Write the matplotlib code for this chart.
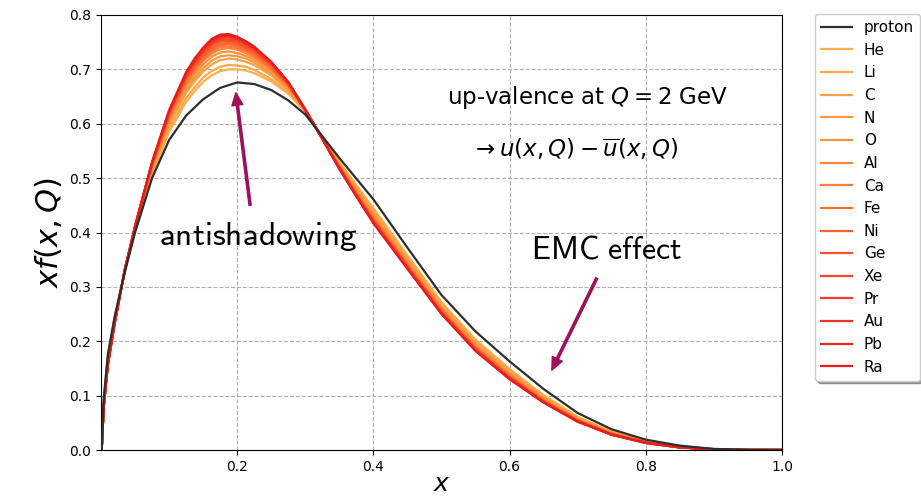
import numpy as np
import matplotlib
matplotlib.use('Agg')
import matplotlib.pyplot as plt

# values (x f(x,Q), up-valence, Q = 2 GeV)
x_p = [0.001, 0.004, 0.01, 0.02, 0.035, 0.05, 0.075, 0.1, 0.125, 0.15, 0.175, 0.2,
       0.225, 0.25, 0.275, 0.3, 0.325, 0.35, 0.375, 0.4, 0.45, 0.5, 0.55, 0.6,
       0.65, 0.7, 0.75, 0.8, 0.85, 0.9, 0.95, 1.0]
proton = [0, 0.095, 0.175, 0.245, 0.328, 0.400, 0.500, 0.570, 0.615, 0.645, 0.666, 0.676,
          0.673, 0.662, 0.643, 0.617, 0.577, 0.537, 0.499, 0.461, 0.372, 0.285, 0.218, 0.163,
          0.112, 0.068, 0.038, 0.019, 0.008, 0.002, 0.0003, 0]

x = [0.001, 0.004, 0.01, 0.02, 0.035, 0.05, 0.075, 0.1,
     0.125, 0.1375, 0.15, 0.1625, 0.175, 0.1875, 0.2, 0.2125, 0.225, 0.25,
     0.275, 0.3, 0.325, 0.35, 0.375, 0.4, 0.45, 0.5, 0.55, 0.6,
     0.65, 0.7, 0.75, 0.8, 0.85, 0.9, 0.95, 1.0]
He = [0, 0.090, 0.172, 0.243, 0.327, 0.402, 0.505, 0.585,
      0.640, 0.660, 0.677, 0.689, 0.697, 0.700, 0.700, 0.698, 0.693, 0.678,
      0.655, 0.622, 0.576, 0.530, 0.487, 0.445, 0.358, 0.272, 0.203, 0.149,
      0.101, 0.061, 0.034, 0.017, 0.007, 0.0017, 0.0002, 0]
Li = [0, 0.089, 0.170, 0.242, 0.328, 0.403, 0.508, 0.590,
      0.647, 0.667, 0.685, 0.697, 0.705, 0.708, 0.707, 0.705, 0.699, 0.682,
      0.658, 0.622, 0.576, 0.528, 0.485, 0.442, 0.355, 0.269, 0.200, 0.147,
      0.099, 0.060, 0.033, 0.0165, 0.0067, 0.0016, 0.0002, 0]
C = [0, 0.086, 0.167, 0.240, 0.329, 0.405, 0.513, 0.597,
     0.657, 0.678, 0.696, 0.709, 0.717, 0.720, 0.718, 0.714, 0.708, 0.689,
     0.662, 0.623, 0.575, 0.526, 0.481, 0.437, 0.351, 0.265, 0.197, 0.143,
     0.097, 0.058, 0.032, 0.016, 0.0062, 0.0015, 0.0002, 0]
N = [0, 0.085, 0.165, 0.239, 0.329, 0.406, 0.515, 0.601,
     0.662, 0.684, 0.702, 0.716, 0.724, 0.726, 0.724, 0.720, 0.713, 0.692,
     0.664, 0.624, 0.574, 0.525, 0.479, 0.434, 0.348, 0.263, 0.195, 0.141,
     0.095, 0.057, 0.032, 0.015, 0.0060, 0.0014, 0.0002, 0]
O = [0, 0.084, 0.164, 0.238, 0.330, 0.407, 0.518, 0.605,
     0.668, 0.690, 0.709, 0.723, 0.731, 0.733, 0.730, 0.725, 0.718, 0.696,
     0.666, 0.624, 0.574, 0.524, 0.477, 0.431, 0.346, 0.261, 0.193, 0.140,
     0.094, 0.057, 0.031, 0.015, 0.0058, 0.0014, 0.00015, 0]
Al = [0, 0.083, 0.162, 0.236, 0.330, 0.408, 0.520, 0.609,
      0.673, 0.696, 0.715, 0.729, 0.737, 0.739, 0.736, 0.730, 0.722, 0.700,
      0.668, 0.624, 0.574, 0.522, 0.474, 0.428, 0.343, 0.259, 0.190, 0.138,
      0.093, 0.056, 0.030, 0.015, 0.0055, 0.0013, 0.00014, 0]
Ca = [0, 0.082, 0.161, 0.236, 0.330, 0.409, 0.521, 0.611,
      0.676, 0.699, 0.718, 0.733, 0.741, 0.742, 0.739, 0.733, 0.725, 0.701,
      0.669, 0.625, 0.573, 0.521, 0.473, 0.427, 0.342, 0.258, 0.189, 0.137,
      0.092, 0.055, 0.030, 0.014, 0.0054, 0.0012, 0.00013, 0]
Fe = [0, 0.082, 0.160, 0.235, 0.331, 0.409, 0.523, 0.613,
      0.679, 0.702, 0.721, 0.736, 0.744, 0.746, 0.742, 0.736, 0.727, 0.703,
      0.670, 0.625, 0.573, 0.521, 0.472, 0.425, 0.340, 0.257, 0.188, 0.136,
      0.091, 0.055, 0.030, 0.014, 0.0052, 0.0012, 0.00013, 0]
Ni = [0, 0.081, 0.159, 0.235, 0.331, 0.410, 0.524, 0.615,
      0.681, 0.705, 0.724, 0.739, 0.747, 0.749, 0.745, 0.739, 0.730, 0.705,
      0.672, 0.625, 0.573, 0.520, 0.471, 0.424, 0.339, 0.256, 0.187, 0.135,
      0.090, 0.054, 0.029, 0.014, 0.0051, 0.0012, 0.00012, 0]
Ge = [0, 0.080, 0.158, 0.234, 0.331, 0.410, 0.525, 0.617,
      0.684, 0.708, 0.727, 0.743, 0.751, 0.752, 0.748, 0.741, 0.732, 0.707,
      0.673, 0.625, 0.573, 0.520, 0.470, 0.423, 0.338, 0.254, 0.186, 0.134,
      0.090, 0.054, 0.029, 0.014, 0.0050, 0.0011, 0.00012, 0]
Xe = [0, 0.080, 0.158, 0.234, 0.331, 0.411, 0.526, 0.619,
      0.687, 0.711, 0.731, 0.746, 0.754, 0.755, 0.751, 0.744, 0.735, 0.709,
      0.674, 0.626, 0.573, 0.519, 0.469, 0.421, 0.337, 0.253, 0.185, 0.133,
      0.089, 0.053, 0.029, 0.014, 0.0049, 0.0011, 0.00011, 0]
Pr = [0, 0.079, 0.157, 0.233, 0.332, 0.411, 0.528, 0.621,
      0.690, 0.714, 0.734, 0.749, 0.757, 0.759, 0.754, 0.747, 0.737, 0.710,
      0.675, 0.626, 0.572, 0.518, 0.468, 0.420, 0.335, 0.252, 0.184, 0.132,
      0.088, 0.053, 0.029, 0.013, 0.0047, 0.0011, 0.00011, 0]
Au = [0, 0.079, 0.156, 0.233, 0.332, 0.411, 0.528, 0.622,
      0.691, 0.716, 0.736, 0.751, 0.759, 0.761, 0.756, 0.748, 0.739, 0.712,
      0.676, 0.626, 0.572, 0.518, 0.467, 0.419, 0.335, 0.251, 0.183, 0.131,
      0.088, 0.053, 0.028, 0.013, 0.0047, 0.00105, 0.0001, 0]
Pb = [0, 0.078, 0.156, 0.232, 0.332, 0.412, 0.529, 0.623,
      0.693, 0.718, 0.738, 0.753, 0.761, 0.762, 0.758, 0.750, 0.740, 0.713,
      0.676, 0.626, 0.572, 0.517, 0.467, 0.418, 0.334, 0.251, 0.183, 0.131,
      0.088, 0.052, 0.028, 0.013, 0.0046, 0.001, 0.0001, 0]
Ra = [0, 0.078, 0.155, 0.232, 0.332, 0.412, 0.530, 0.625,
      0.695, 0.720, 0.740, 0.756, 0.764, 0.765, 0.760, 0.752, 0.742, 0.714,
      0.677, 0.626, 0.572, 0.517, 0.466, 0.417, 0.333, 0.250, 0.182, 0.130,
      0.087, 0.052, 0.028, 0.013, 0.0045, 0.001, 0.0001, 0]

names = ['He', 'Li', 'C', 'N', 'O', 'Al', 'Ca', 'Fe', 'Ni', 'Ge', 'Xe', 'Pr', 'Au', 'Pb', 'Ra']
curves = [He, Li, C, N, O, Al, Ca, Fe, Ni, Ge, Xe, Pr, Au, Pb, Ra]

fig = plt.figure(figsize=(9.21, 4.99), dpi=100)
ax = fig.add_axes([101/921, 49/499, 681/921, 435/499])

cmap = plt.get_cmap('YlOrRd')
ax.plot(x_p, proton, color='#2e2e2e', lw=1.6, label='proton', zorder=3)
for i, (name, y) in enumerate(zip(names, curves)):
    ax.plot(x, y, color=cmap(0.38 + 0.36*i/14), lw=1.6, label=name)

ax.set_xlim(0, 1)
ax.set_ylim(0, 0.8)
ax.set_xticks([0.2, 0.4, 0.6, 0.8, 1.0])
ax.set_yticks(np.arange(0, 0.81, 0.1))
ax.tick_params(labelsize=10)
ax.grid(True, ls='--', color='#b0b0b0', lw=0.8)
ax.set_xlabel('$x$', fontsize=18, va='top')
ax.xaxis.set_label_coords(0.5, -0.05)
ax.set_ylabel('$xf(x,Q)$', fontsize=22)

ax.text(0.714, 0.649, 'up-valence at $Q=2$ GeV', fontsize=16.5, ha='center', va='center')
ax.text(0.695, 0.553, r'$\to u(x,Q)-\overline{u}(x,Q)$', fontsize=16.5, ha='center', va='center')

plt.rcParams['mathtext.fontset'] = 'cm'
arrow = dict(color='#a0105a', width=1.6, headwidth=8, headlength=9, shrink=0)
ax.annotate('', xy=(0.198, 0.657), xytext=(0.219, 0.45), arrowprops=arrow)
ax.annotate('', xy=(0.662, 0.147), xytext=(0.728, 0.316), arrowprops=arrow)
ax.text(0.231, 0.392, r'$\mathsf{antishadowing}$', fontsize=24, ha='center', va='center')
ax.text(0.743, 0.368, r'$\mathsf{EMC\ effect}$', fontsize=23, ha='center', va='center')

fig.legend(loc='upper left', bbox_to_anchor=(815/921, 1 - 14/499), fontsize=11,
           labelspacing=0.5, shadow=True, borderaxespad=0, edgecolor='#cccccc')

fig.savefig('out.png', dpi=100)
